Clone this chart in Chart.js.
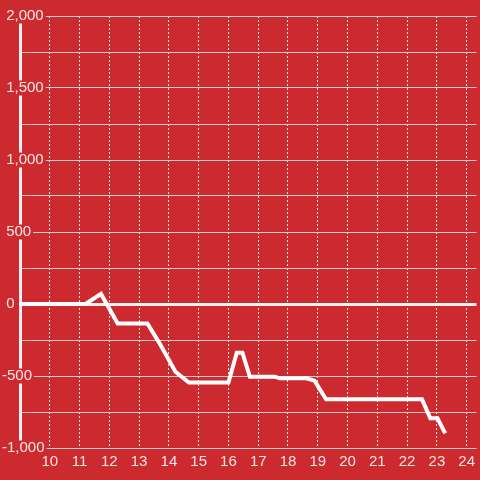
<!DOCTYPE html>
<html>
<head>
<meta charset="utf-8">
<script src="https://cdn.jsdelivr.net/npm/chart.js@4"></script>
<style>
  html, body { margin: 0; padding: 0; background: #cc2a2f; }
  #wrap { width: 480px; height: 480px; }
</style>
</head>
<body>
<div id="wrap"><canvas id="chart"></canvas></div>
<script>
// данные линии
const xValues = [9, 11.2, 11.72, 12.28, 13.28, 13.72, 14.22, 14.67, 16.0, 16.28, 16.47, 16.72, 17.56, 17.72, 18.61, 18.89, 19.28, 22.5, 22.78, 23.02, 23.28];
const yValues = [0, 0, 70, -135, -135, -285, -470, -546, -546, -338, -338, -505, -505, -516, -516, -532, -662, -662, -794, -794, -898];
const xTicks = [10, 11, 12, 13, 14, 15, 16, 17, 18, 19, 20, 21, 22, 23, 24];

const bg = '#cc2a2f';
const labelColor = 'rgba(255,255,255,0.88)';

const points = xValues.map((x, i) => ({ x: x, y: yValues[i] }));

new Chart(document.getElementById('chart'), {
  type: 'line',
  data: {
    datasets: [{
      data: points,
      borderColor: '#ffffff',
      borderWidth: 4,
      pointRadius: 0,
      tension: 0,
      fill: false
    }]
  },
  options: {
    responsive: true,
    maintainAspectRatio: false,
    animation: false,
    layout: { padding: { top: 16, left: 2, right: 0, bottom: 0 } },
    plugins: { legend: { display: false }, tooltip: { enabled: false } },
    scales: {
      x: {
        type: 'linear',
        min: 9,
        max: 24.33,
        afterBuildTicks: scale => {
          scale.ticks = xTicks.map(v => ({ value: v }));
        },
        afterFit: scale => { scale.height = 32; },
        grid: {
          color: '#eeeeee',
          lineWidth: 1,
          drawTicks: false
        },
        // в v4 пунктир сетки задаётся через border.dash
        border: { display: false, dash: [2, 2] },
        ticks: {
          color: labelColor,
          padding: 5,
          maxRotation: 0,
          autoSkip: false,
          font: { family: 'Liberation Sans, Arial, sans-serif', size: 15 }
        }
      },
      y: {
        min: -1000,
        max: 2000,
        afterFit: scale => { scale.width = 18; },
        grid: {
          color: ctx => ctx.tick && ctx.tick.value === 0 ? '#f0f0f0' : '#cccccc',
          lineWidth: ctx => ctx.tick && ctx.tick.value === 0 ? 3 : 1,
          drawTicks: false
        },
        border: { display: true, color: '#f0f0f0', width: 3 },
        ticks: {
          stepSize: 250,
          color: labelColor,
          mirror: true,
          crossAlign: 'near',
          padding: -18,
          showLabelBackdrop: true,
          backdropColor: bg,
          backdropPadding: { top: 0, bottom: 0, left: 2, right: 2 },
          font: { family: 'Liberation Sans, Arial, sans-serif', size: 15, lineHeight: 1.0 },
          callback: v => {
            if (v % 500 !== 0) return '';
            const s = Math.abs(v).toLocaleString('en-US');
            return v < 0 ? '-' + s : ' ' + s;
          }
        }
      }
    }
  }
});
</script>
</body>
</html>
